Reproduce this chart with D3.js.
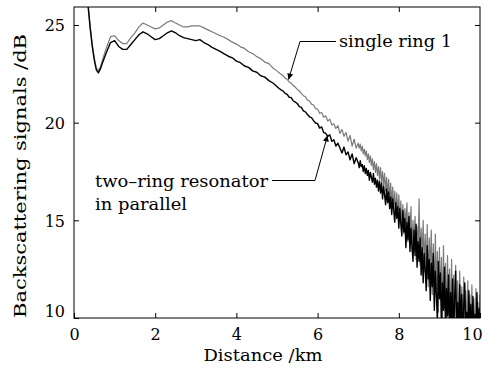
<!DOCTYPE html>
<html>
<head>
<meta charset="utf-8">
<script src="https://cdn.jsdelivr.net/npm/d3@7"></script>
<style>
  html, body { margin: 0; padding: 0; background: #fff; }
  svg { display: block; }
  text { font-family: "DejaVu Serif", serif; fill: #000; }
</style>
</head>
<body>
<svg id="chart" width="498" height="369"></svg>
<script>
// ---------- data ----------
const distanceKm = [
  0.30,0.35,0.40,0.45,0.50,0.55,0.60,0.65,0.70,
  0.80,0.90,1.00,1.10,1.20,1.30,1.40,1.50,1.60,1.70,1.80,1.90,2.00,2.10,2.20,2.30,2.40,2.50,2.60,2.70,2.80,2.90,
  3.00,3.10,3.20,3.30,3.40,3.50,3.60,3.70,3.80,3.90,4.00,4.10,4.20,4.30,4.40,4.50,4.60,4.70,4.80,4.90,5.00,
  5.05,5.10,5.15,5.20,5.25,5.30,5.35,5.40,5.45,5.50,5.55,5.60,5.65,5.70,5.75,5.80,5.85,5.90,5.95,6.00,
  6.05,6.10,6.15,6.20,6.25,6.30,6.35,6.40,6.45,6.50,6.55,6.60,6.65,6.70,6.75,6.80,6.85,6.90,6.95,
  7.000,7.025,7.050,7.075,7.100,7.125,7.150,7.175,7.200,7.225,7.250,7.275,7.300,7.325,7.350,7.375,7.400,7.425,7.450,7.475,
  7.500,7.525,7.550,7.575,7.600,7.625,7.650,7.675,7.700,7.725,7.750,7.775,7.800,7.825,7.850,7.875,7.900,7.925,7.950,7.975,
  8.000,8.025,8.050,8.075,8.100,8.125,8.150,8.175,8.200,8.225,8.250,8.275,8.300,8.325,8.350,8.375,8.400,8.425,8.450,8.475,
  8.500,8.525,8.550,8.575,8.600,8.625,8.650,8.675,8.700,8.725,8.750,8.775,8.800,8.825,8.850,8.875,8.900,8.925,8.950,8.975,
  9.000,9.025,9.050,9.075,9.100,9.125,9.150,9.175,9.200,9.225,9.250,9.275,9.300,9.325,9.350,9.375,9.400,9.425,9.450,9.475,
  9.500,9.525,9.550,9.575,9.600,9.625,9.650,9.675,9.700,9.725,9.750,9.775,9.800,9.825,9.850,9.875,9.900,9.925,9.950,9.975,
  10.000
];

const singleRing = [
  27.6,26.0,24.9,24.0,23.3,22.8,22.65,22.85,23.2,
  23.85,24.4,24.45,24.2,24.05,24.05,24.35,24.6,24.9,25.1,25.0,24.9,24.8,24.85,25.0,25.15,25.22,25.1,25.0,24.9,24.9,24.95,
  24.95,24.95,24.85,24.75,24.65,24.55,24.45,24.37,24.25,24.12,24.02,23.88,23.8,23.63,23.54,23.38,23.27,23.1,23.02,22.8,22.65,
  22.55,22.48,22.40,22.28,22.22,22.08,22.02,21.90,21.82,21.70,21.62,21.50,21.38,21.33,21.15,21.12,20.95,20.90,20.72,20.70,
  20.48,20.52,20.28,20.35,20.08,20.18,19.88,19.95,19.70,19.85,19.45,19.65,19.30,19.50,19.05,19.35,18.80,19.15,18.70,
  18.95,18.70,18.90,18.55,18.80,18.40,18.65,18.30,18.55,18.10,18.40,17.95,18.30,17.80,18.15,17.60,18.00,17.45,17.90,17.30,
  17.75,17.10,17.70,16.90,17.50,16.80,17.40,16.50,17.20,16.30,17.10,16.00,16.90,15.80,16.70,15.60,16.50,15.30,16.40,15.20,
  16.30,14.90,16.00,14.60,15.80,14.30,15.60,14.60,15.90,13.90,15.40,14.20,15.70,13.40,15.00,13.80,15.20,13.00,14.70,13.40,
  16.10,12.70,14.60,13.10,15.00,12.40,14.30,12.00,14.80,11.60,14.10,12.30,14.50,11.20,13.80,10.80,14.30,11.50,13.40,10.30,
  13.60,10.90,13.10,9.90,13.70,10.50,12.80,9.60,13.20,10.20,12.50,9.30,13.00,9.80,12.20,9.20,12.70,9.50,11.90,9.00,
  12.40,9.40,11.60,9.00,12.10,9.00,11.40,9.20,11.90,9.00,11.20,9.00,11.70,9.00,11.00,9.00,11.50,9.00,10.80,9.00,
  11.20
];

const twoRing = [
  27.5,25.9,24.8,23.9,23.2,22.7,22.55,22.75,23.05,
  23.6,24.1,24.2,23.9,23.75,23.75,24.0,24.25,24.5,24.65,24.55,24.4,24.25,24.3,24.45,24.6,24.7,24.6,24.45,24.35,24.3,24.25,
  24.2,24.25,24.1,24.0,23.85,23.75,23.65,23.52,23.4,23.32,23.15,23.07,22.9,22.83,22.65,22.58,22.4,22.33,22.15,22.03,21.85,
  21.75,21.68,21.62,21.50,21.45,21.30,21.28,21.12,21.05,20.98,20.82,20.78,20.60,20.55,20.42,20.30,20.26,20.10,19.98,19.95,
  19.72,19.78,19.50,19.45,19.30,19.38,19.05,19.12,18.80,18.95,18.70,18.45,18.75,18.35,18.50,18.10,18.40,17.90,18.20,
  17.95,17.70,18.05,17.75,17.85,17.50,17.80,17.40,17.65,17.30,17.55,17.05,17.45,17.20,16.95,17.40,16.85,17.15,16.70,17.05,
  16.50,17.00,16.40,16.90,16.10,16.75,16.30,15.80,16.60,15.90,16.45,15.60,16.20,15.30,16.10,15.50,14.90,15.90,15.10,15.70,
  14.60,15.60,14.80,14.20,15.50,14.40,15.10,13.60,14.90,14.00,15.20,13.40,14.60,13.70,12.90,14.50,13.20,14.80,12.60,13.90,
  12.90,14.10,12.20,13.60,11.80,13.30,12.50,11.40,13.70,12.00,13.00,10.90,12.80,11.60,13.30,10.40,12.40,11.20,9.80,12.90,
  11.00,12.30,9.50,11.80,10.40,12.60,9.30,11.50,10.10,12.20,9.20,11.30,9.80,12.00,9.00,11.00,12.40,9.40,10.80,9.00,
  11.70,9.60,11.20,9.00,10.60,11.80,9.00,10.30,9.00,11.40,9.20,10.70,9.00,11.10,9.00,10.20,9.00,11.30,9.00,10.50,
  9.50
];

const xTicks = [0, 2, 4, 6, 8, 10];
const yTicks = [10, 15, 20, 25];
const xLabel = "Distance /km";
const yLabel = "Backscattering signals /dB";
const labelSingle = "single ring 1";
const labelTwo = ["two\u2013ring resonator", "in parallel"];

(function draw() {
  const svg = d3.select("#chart");
  const W = 498, H = 369;
  const pL = 74, pR = 480, pT = 7, pB = 318;
  const FONT = "DejaVu Serif";
  const fs = 16;

  svg.append("rect").attr("width", W).attr("height", H).attr("fill", "#fff");

  const x = d3.scaleLinear().domain([0, 10]).range([pL, pR]);
  const y = d3.scaleLinear().domain([10, 25.92]).range([pB, pT]);

  const defs = svg.append("defs");
  defs.append("clipPath").attr("id", "plotclip")
    .append("rect").attr("x", pL).attr("y", pT)
    .attr("width", pR - pL).attr("height", pB - pT);

  const line = d3.line().x((d, i) => x(distanceKm[i])).y(d => y(d));

  const plot = svg.append("g").attr("clip-path", "url(#plotclip)");
  plot.append("path").datum(singleRing)
    .attr("d", line).attr("fill", "none")
    .attr("stroke", "#7a7a7a").attr("stroke-width", 1.2).attr("stroke-linejoin", "round");
  plot.append("path").datum(twoRing)
    .attr("d", line).attr("fill", "none")
    .attr("stroke", "#000").attr("stroke-width", 1.4).attr("stroke-linejoin", "round");

  const gx = svg.append("g").attr("transform", `translate(0,${pB})`)
    .call(d3.axisBottom(x).tickValues(xTicks).tickFormat(d3.format("d"))
      .tickSizeInner(-5).tickSizeOuter(0).tickPadding(10));
  gx.selectAll("text").attr("font-size", fs).attr("font-family", FONT)
    .attr("fill", "#000")
    .attr("y", 22).attr("dy", 0)
    .attr("dx", d => d === 10 ? -8 : 0);

  const gxt = svg.append("g").attr("transform", `translate(0,${pT})`)
    .call(d3.axisTop(x).tickValues(xTicks.slice(1, -1)).tickFormat("")
      .tickSizeInner(-5).tickSizeOuter(0));

  const gy = svg.append("g").attr("transform", `translate(${pL},0)`)
    .call(d3.axisLeft(y).tickValues(yTicks).tickFormat(d3.format("d"))
      .tickSizeInner(-5).tickSizeOuter(0).tickPadding(9));
  gy.selectAll("text").attr("font-size", fs).attr("font-family", FONT)
    .attr("fill", "#000")
    .attr("dy", d => d === 10 ? "-0.12em" : "0.36em");

  const gyr = svg.append("g").attr("transform", `translate(${pR},0)`)
    .call(d3.axisRight(y).tickValues(yTicks.slice(1)).tickFormat("")
      .tickSizeInner(-5).tickSizeOuter(0));

  [gx, gxt, gy, gyr].forEach(g => {
    g.select(".domain").remove();
    g.selectAll("line").attr("stroke", "#000").attr("stroke-width", 1);
  });

  svg.append("rect").attr("x", pL).attr("y", pT)
    .attr("width", pR - pL).attr("height", pB - pT)
    .attr("fill", "none").attr("stroke", "#000").attr("stroke-width", 1);

  svg.append("text").attr("x", 263).attr("y", 361).attr("text-anchor", "middle")
    .attr("font-size", fs).attr("textLength", 119).attr("lengthAdjust", "spacingAndGlyphs")
    .text(xLabel);
  svg.append("text").attr("transform", "translate(26,176) rotate(-90)")
    .attr("text-anchor", "middle").attr("font-size", fs)
    .attr("textLength", 284).attr("lengthAdjust", "spacingAndGlyphs").text(yLabel);

  defs.append("marker").attr("id", "arrow")
    .attr("viewBox", "0 0 10 10").attr("refX", 10).attr("refY", 5)
    .attr("markerWidth", 8).attr("markerHeight", 6).attr("markerUnits", "userSpaceOnUse")
    .attr("orient", "auto")
    .append("path").attr("d", "M0,0 L10,5 L0,10 Z").attr("fill", "#000");

  svg.append("path").attr("d", "M336,41.5 L300,41.5 L288.5,79.5")
    .attr("fill", "none").attr("stroke", "#000").attr("stroke-width", 1)
    .attr("marker-end", "url(#arrow)");
  svg.append("text").attr("x", 339).attr("y", 47).attr("font-size", fs)
    .attr("textLength", 113).attr("lengthAdjust", "spacingAndGlyphs").text(labelSingle);

  svg.append("path").attr("d", "M272,180.5 L315,180.5 L327.5,135.5")
    .attr("fill", "none").attr("stroke", "#000").attr("stroke-width", 1)
    .attr("marker-end", "url(#arrow)");
  svg.append("text").attr("x", 95).attr("y", 187).attr("font-size", fs)
    .attr("textLength", 173).attr("lengthAdjust", "spacingAndGlyphs").text(labelTwo[0]);
  svg.append("text").attr("x", 95).attr("y", 210).attr("font-size", fs)
    .attr("textLength", 92).attr("lengthAdjust", "spacingAndGlyphs").text(labelTwo[1]);
})();
</script>
</body>
</html>
